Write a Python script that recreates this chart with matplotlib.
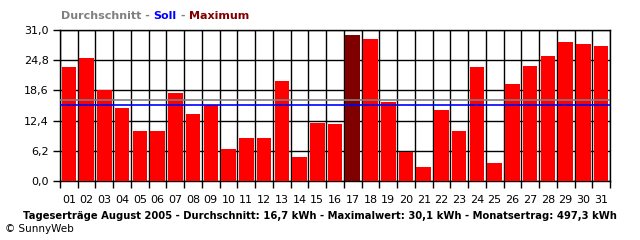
import numpy as np
import matplotlib
matplotlib.use("Agg")
import matplotlib.pyplot as plt

# daily yields in kWh, August 2005
days = ["%02d" % d for d in range(1, 32)]
yields = [23.4, 25.3, 18.7, 15.0, 10.2, 10.2, 18.1, 13.8, 15.7, 6.5,
          8.8, 8.8, 20.5, 4.9, 11.9, 11.7, 30.1, 29.2, 16.2, 5.9,
          2.8, 14.6, 10.2, 23.4, 3.6, 19.9, 23.6, 25.7, 28.6, 28.2, 27.8]
average = 16.7
target = 15.7
yticks = [0.0, 6.2, 12.4, 18.6, 24.8, 31.0]
ytick_labels = ["0,0", "6,2", "12,4", "18,6", "24,8", "31,0"]

plt.rcParams['font.family'] = ['DejaVu Sans']
fig = plt.figure(figsize=(6.4, 2.4), dpi=100)
ax = fig.add_axes([60/640, 1 - 180.7/240, 550/640, 150.4/240])

x = np.arange(1, 32)
imax = int(np.argmax(yields))
colors = ['#ff0000'] * len(yields)
colors[imax] = '#800000'
ax.bar(x, yields, width=0.82, color=colors, zorder=3)

# grid: horizontal at y ticks, vertical at day boundaries
for y in yticks:
    ax.axhline(y, color='black', lw=1, zorder=1)
for b in np.arange(0.5, 32, 1):
    ax.axvline(b, color='black', lw=1, zorder=2)

ax.axhline(average, color='#808080', lw=1.2, zorder=4)
ax.axhline(target, color='#0000ff', lw=1.2, zorder=4)

ax.set_xlim(0.5, 31.5)
ax.set_ylim(0, 31)
ax.set_yticks(yticks)
ax.set_yticklabels(ytick_labels, fontsize=8)
ax.set_xticks(np.arange(0.5, 32, 1))
ax.set_xticklabels([])
ax.set_xticks(x, minor=True)
ax.set_xticklabels(days, minor=True, fontsize=8)
ax.tick_params(axis='x', which='major', length=5, width=1, color='black')
ax.tick_params(axis='x', which='minor', length=0, pad=10)
ax.tick_params(axis='y', length=5, width=1, pad=3)
for s in ax.spines.values():
    s.set_color('black')
    s.set_linewidth(1)

# legend-like header
hy = 1 - 16/240
t1 = fig.text(61/640, hy, "Durchschnitt - ", color='#808080', fontsize=8,
              fontweight='bold', va='center')
fig.canvas.draw()
r = fig.canvas.get_renderer()
bb = t1.get_window_extent(r)
t2 = fig.text(bb.x1/640, hy, "Soll", color='#0000ff', fontsize=8,
              fontweight='bold', va='center')
bb = t2.get_window_extent(r)
t3 = fig.text(bb.x1/640, hy, " - ", color='#808080', fontsize=8,
              fontweight='bold', va='center')
bb = t3.get_window_extent(r)
fig.text(bb.x1/640, hy, "Maximum", color='#800000', fontsize=8,
         fontweight='bold', va='center')

fig.text(320/640, 1 - 216/240,
         "Tageserträge August 2005 - Durchschnitt: 16,7 kWh - Maximalwert: 30,1 kWh - Monatsertrag: 497,3 kWh",
         ha='center', va='center', fontsize=7.2, fontweight='bold')
fig.text(5/640, 1 - 229/240, "© SunnyWeb", ha='left', va='center', fontsize=7.5)

fig.savefig("out.png", dpi=100)
